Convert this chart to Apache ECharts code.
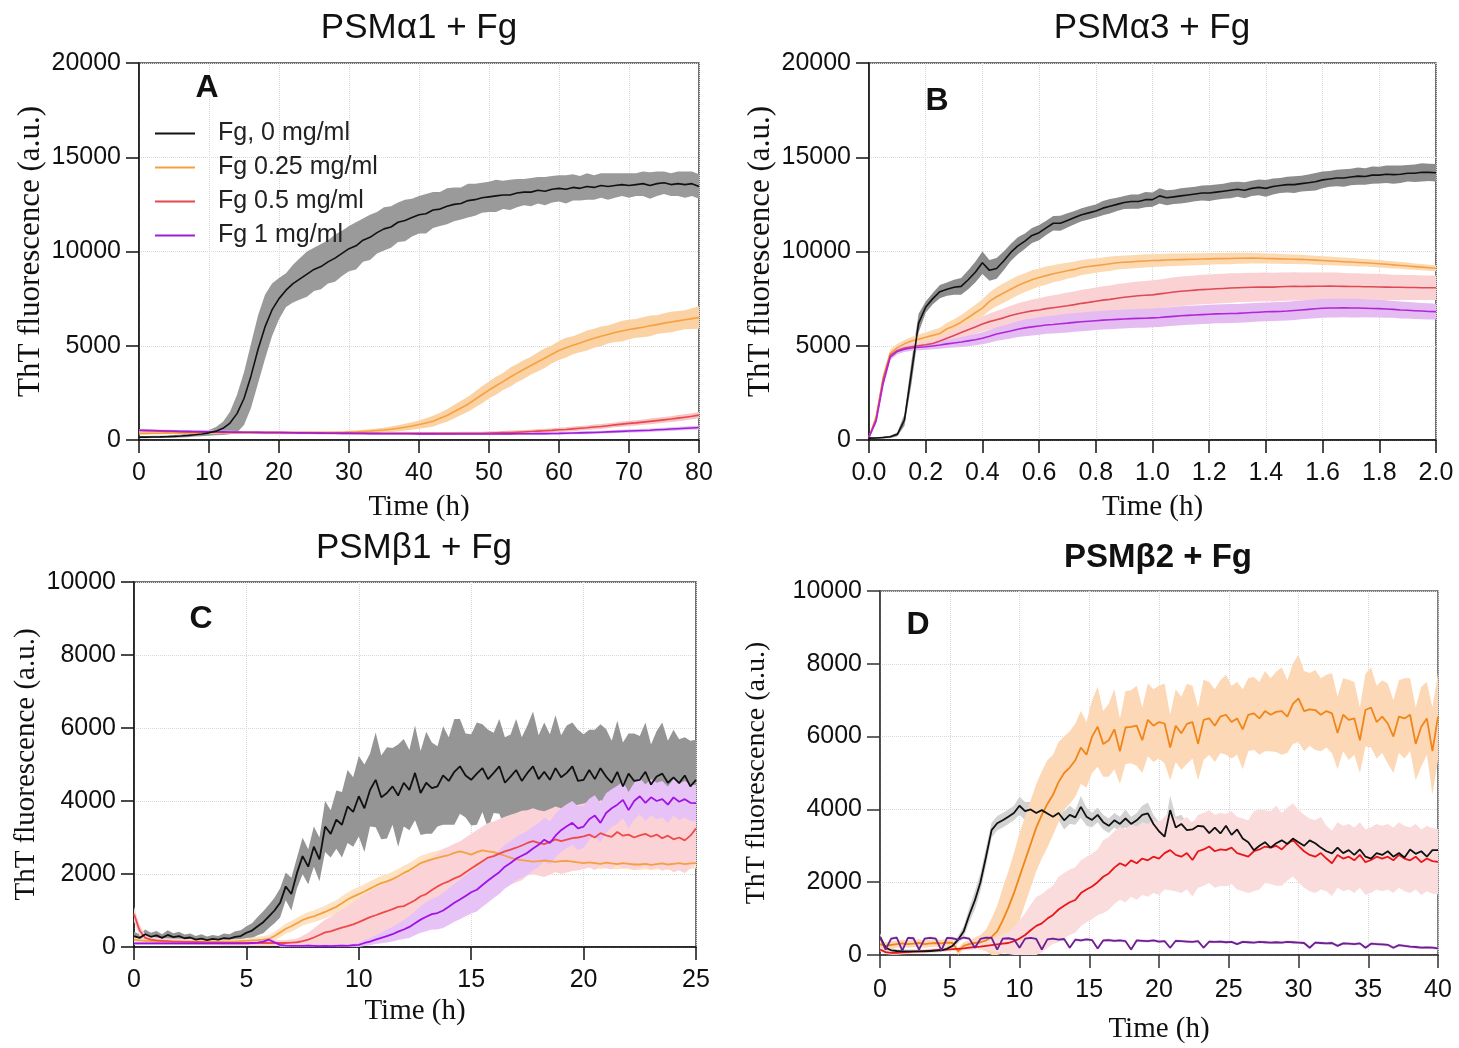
<!DOCTYPE html>
<html><head><meta charset="utf-8">
<script src="https://cdn.jsdelivr.net/npm/echarts@6/dist/echarts.min.js"></script>
<style>html,body{margin:0;padding:0;background:#fff}#c{width:1459px;height:1048px}</style>
</head><body><div id="c"></div>
<script>
// ---------- Panel A: PSMα1 + Fg (time step 1 h, 0..80 h) ----------
const A_step = 1;
const A_black = [150,150,160,165,175,190,210,240,280,320,
 380,470,620,900,1400,2200,3400,4800,6000,6900,
 7500,7950,8300,8550,8800,9050,9200,9450,9650,9900,
 10150,10300,10600,10750,11000,11200,11300,11550,11650,11800,
 11950,12000,12200,12250,12400,12500,12550,12700,12750,12850,
 12900,12950,13000,13000,13100,13150,13150,13250,13200,13300,
 13350,13300,13400,13350,13450,13400,13500,13450,13500,13550,
 13500,13550,13600,13500,13600,13650,13550,13600,13550,13600,
 13450];
const A_blackSd = [60,60,60,60,60,70,80,90,100,120,
 150,220,350,600,1000,1400,1700,1800,1700,1400,
 1100,900,1000,1100,1200,1150,1200,1150,1250,1200,
 1200,1250,1150,1200,1100,1150,1100,1050,1100,1000,
 1000,1050,950,900,950,900,850,900,850,800,
 800,850,750,800,750,700,750,700,750,700,
 700,750,700,650,700,650,650,700,650,600,
 650,600,650,700,650,600,600,650,700,650,
 650];
const A_orange = [350,350,360,360,370,370,380,380,380,390,
 390,390,390,390,390,390,390,390,390,390,
 390,390,390,390,390,390,390,390,400,400,
 420,430,450,470,500,530,570,620,680,740,
 820,900,1000,1150,1300,1500,1700,1900,2150,2400,
 2650,2880,3100,3330,3550,3750,3950,4150,4350,4550,
 4750,4900,5030,5150,5280,5400,5500,5600,5700,5780,
 5860,5920,5980,6060,6120,6200,6260,6320,6380,6440,
 6500];
const A_orangeSd = [60,60,60,60,60,60,60,60,60,60,
 60,60,60,60,60,60,60,60,60,60,
 60,60,60,60,60,60,60,60,70,70,
 80,80,90,100,110,120,140,160,180,200,
 220,250,280,300,330,360,380,400,420,450,
 450,480,450,500,480,500,470,500,520,480,
 500,520,480,500,530,500,520,480,500,550,
 520,500,530,550,500,520,550,530,500,550,
 600];
const A_red = [500,490,480,470,460,450,440,430,420,420,
 410,410,400,400,400,400,395,395,390,390,
 390,385,385,380,380,380,375,375,370,370,
 370,365,365,360,360,360,355,355,355,350,
 350,350,350,350,350,350,355,355,360,360,
 370,380,390,400,415,430,450,470,490,510,
 540,560,590,620,650,690,720,760,800,840,
 880,910,950,990,1030,1070,1110,1160,1210,1260,
 1320];
const A_redSd = [80,80,80,80,80,80,80,80,80,80,
 80,80,80,80,80,80,80,80,80,80,
 80,80,80,80,80,80,80,80,80,80,
 80,80,80,80,80,80,80,80,80,80,
 80,80,80,80,80,80,80,80,80,80,
 90,90,90,100,100,100,100,110,110,110,
 110,120,120,120,120,130,130,130,130,140,
 140,140,140,150,150,150,150,160,160,160,
 170];
const A_purple = [520,510,500,490,480,470,460,455,450,445,
 440,435,430,425,420,415,410,405,400,400,
 395,390,385,380,375,370,365,360,355,350,
 350,345,345,340,340,335,335,330,330,330,
 325,325,325,320,320,320,320,320,320,320,
 320,320,325,325,330,330,335,340,340,345,
 350,360,370,380,390,400,415,430,445,460,
 475,490,505,520,540,560,580,600,620,640,
 660];
const A_purpleSd = [60,60,60,60,60,60,60,60,60,60,
 60,60,60,60,60,60,60,60,60,60,
 60,60,60,60,60,60,60,60,60,60,
 60,60,60,60,60,60,60,60,60,60,
 60,60,60,60,60,60,60,60,60,60,
 60,60,60,60,70,70,70,70,70,70,
 70,70,70,80,80,80,80,80,80,80,
 90,90,90,90,90,90,100,100,100,100,
 100];

// ---------- Panel B: PSMα3 + Fg (time step 0.025 h, 0..2 h) ----------
const B_step = 0.025;
const B_black = [100,110,130,170,300,1060,3600,6200,7050,7500,
 7870,8000,8100,8150,8500,8900,9400,9000,9100,9500,
 9950,10300,10550,10850,11000,11250,11500,11500,11650,11800,
 11950,12050,12150,12300,12400,12500,12600,12650,12650,12750,
 12750,12950,12850,12900,12950,13000,13050,13100,13100,13150,
 13200,13250,13300,13250,13350,13400,13350,13450,13500,13550,
 13550,13600,13650,13700,13800,13850,13900,13900,13950,14000,
 13980,14050,14050,14100,14080,14100,14150,14150,14200,14200,
 14180];
const B_blackSd = [40,40,50,60,100,300,600,500,300,300,
 350,350,400,450,500,550,600,550,550,500,
 450,450,400,400,400,380,380,400,380,350,
 350,350,350,380,380,350,350,380,380,400,
 380,400,400,380,400,400,380,400,420,400,
 400,420,400,420,400,420,440,420,400,420,
 440,420,440,460,440,420,440,460,440,460,
 440,460,440,460,480,460,440,460,480,460,
 460];
const B_orange = [150,1200,3300,4600,4900,5100,5250,5350,5450,5550,
 5650,5900,6050,6250,6500,6750,7000,7350,7600,7800,
 8000,8200,8350,8500,8620,8720,8820,8900,8980,9050,
 9150,9200,9250,9300,9350,9400,9430,9450,9480,9500,
 9520,9530,9550,9560,9570,9580,9590,9600,9610,9620,
 9620,9630,9640,9640,9650,9640,9630,9620,9610,9600,
 9590,9580,9560,9540,9520,9500,9480,9460,9440,9420,
 9400,9380,9350,9320,9290,9260,9230,9200,9170,9140,
 9110];
const B_orangeSd = [50,200,250,200,200,200,220,250,250,280,
 300,320,350,380,400,420,450,480,500,520,
 520,520,500,500,480,480,450,450,420,420,
 400,400,380,380,380,360,360,350,350,350,
 340,340,330,330,320,320,320,310,310,300,
 300,300,290,290,280,280,270,270,260,260,
 250,250,240,240,230,230,220,220,210,210,
 200,200,200,190,190,180,180,170,170,160,
 160];
const B_red = [150,1100,3200,4500,4750,4880,4950,5000,5050,5120,
 5250,5400,5550,5700,5850,6000,6150,6280,6380,6480,
 6600,6700,6780,6850,6900,6970,7020,7070,7120,7180,
 7250,7300,7360,7420,7460,7520,7570,7610,7650,7680,
 7700,7750,7800,7850,7890,7920,7950,7980,8000,8020,
 8040,8060,8080,8090,8100,8110,8120,8110,8130,8140,
 8150,8140,8150,8160,8160,8170,8160,8150,8140,8140,
 8130,8130,8120,8110,8100,8100,8090,8090,8080,8080,
 8080];
const B_redSd = [50,150,150,150,150,180,200,200,200,220,
 250,280,300,330,350,380,400,430,460,500,
 520,550,570,600,620,640,660,680,700,700,
 720,720,730,740,740,750,750,760,760,760,
 770,770,770,780,780,780,780,780,780,780,
 780,780,770,770,770,760,760,760,750,750,
 750,740,740,730,730,720,720,710,700,700,
 690,690,680,680,670,670,660,660,650,650,
 650];
const B_purple = [150,1000,3000,4400,4700,4820,4880,4920,4950,4990,
 5040,5100,5150,5200,5260,5320,5400,5500,5620,5700,
 5780,5880,5950,6000,6050,6100,6130,6170,6200,6240,
 6270,6300,6330,6360,6380,6400,6420,6440,6450,6460,
 6480,6500,6530,6560,6590,6610,6630,6650,6670,6690,
 6700,6710,6720,6740,6760,6780,6800,6810,6820,6840,
 6870,6900,6930,6960,6990,7000,7000,7010,7000,7000,
 6990,6980,6970,6950,6930,6900,6880,6860,6840,6820,
 6810];
const B_purpleSd = [50,150,150,150,150,150,150,160,170,180,
 200,220,240,260,280,300,320,340,360,380,
 400,420,440,450,460,470,480,490,500,500,
 500,500,500,500,500,500,500,500,500,500,
 500,500,500,500,500,500,500,500,500,500,
 500,500,500,500,500,500,500,500,500,500,
 500,500,500,500,500,500,500,500,500,500,
 480,480,470,460,450,450,440,440,430,430,
 420];

// ---------- Panel C: PSMβ1 + Fg (time step 0.25 h, 0..25 h) ----------
const C_step = 0.25;
const C_black = [300,250,350,280,320,250,330,270,300,240,
 260,200,230,190,220,200,240,230,280,300,
 390,450,570,680,840,1000,1210,1660,1450,2030,
 2490,2200,2750,2400,3300,3100,3490,3350,3850,3700,
 4130,3800,4300,4580,4100,4220,4400,4150,4500,4300,
 4770,4220,4500,4350,4400,4700,4550,4800,4950,4700,
 4580,4750,4900,4600,4770,4950,4500,4670,4850,4550,
 4770,4950,4600,4800,4580,4900,4650,4770,4950,4550,
 4580,4850,4600,4900,4670,4500,4800,4400,4750,4550,
 4580,4800,4450,4670,4750,4500,4650,4490,4700,4400,
 4580];
const C_blackSd = [120,100,130,110,120,100,130,110,120,100,
 110,100,120,100,110,100,130,120,150,160,
 180,200,250,300,320,350,400,380,450,420,
 500,480,550,600,700,650,800,900,1000,950,
 1100,1200,1000,1300,1150,1250,1050,1400,1200,1100,
 1300,1150,1400,1250,1100,1350,1200,1450,1300,1150,
 1250,1400,1200,1350,1100,1300,1250,1150,1400,1200,
 1300,1500,1200,1350,1250,1450,1150,1300,1200,1400,
 1250,1100,1350,1200,1300,1150,1400,1200,1100,1300,
 1200,1350,1100,1250,1400,1150,1300,1200,1050,1250,
 1100];
const C_orange = [200,180,170,160,150,150,150,150,150,150,
 150,150,150,150,150,150,150,150,150,160,
 170,180,190,200,220,300,400,500,570,650,
 740,800,840,900,960,1030,1100,1200,1300,1380,
 1450,1520,1600,1680,1750,1800,1860,1940,2030,2100,
 2200,2300,2350,2400,2440,2480,2520,2580,2620,2580,
 2530,2600,2650,2620,2600,2550,2500,2450,2400,2380,
 2360,2340,2350,2370,2350,2330,2350,2360,2340,2320,
 2300,2320,2300,2280,2310,2290,2270,2300,2280,2260,
 2260,2280,2250,2270,2290,2260,2280,2300,2270,2290,
 2300];
const C_orangeSd = [60,60,60,60,60,60,60,60,60,60,
 60,60,60,60,60,60,60,60,60,60,
 80,80,90,100,110,120,130,140,150,150,
 150,160,160,170,170,180,180,190,190,200,
 200,200,200,200,200,200,200,200,200,200,
 200,200,200,200,200,200,200,200,200,200,
 200,200,200,200,200,180,180,160,160,150,
 150,150,150,150,150,150,150,150,150,150,
 150,150,150,150,150,150,150,150,150,150,
 150,150,150,150,150,150,150,150,150,150,
 150];
const C_red = [900,450,250,200,180,170,160,150,150,140,
 140,130,130,120,120,120,110,110,110,110,
 110,110,110,110,110,110,110,110,120,130,
 160,200,260,330,400,430,480,530,570,620,
 680,750,820,870,930,980,1040,1100,1120,1200,
 1280,1390,1450,1560,1660,1740,1800,1880,1940,2050,
 2150,2250,2350,2450,2490,2560,2620,2670,2720,2780,
 2850,2900,2850,2820,2880,2950,2900,2940,2980,3000,
 3030,3080,3000,3120,3060,3020,3150,3050,3080,3000,
 3060,3100,3020,3080,2980,3050,2950,3000,2920,3050,
 3250];
const C_redSd = [200,150,100,90,80,80,80,80,80,80,
 80,80,80,80,80,80,80,80,80,80,
 80,80,80,80,80,80,80,80,90,100,
 150,200,250,300,350,400,450,500,550,600,
 650,700,700,750,750,800,800,800,850,850,
 850,900,900,900,900,950,950,950,950,950,
 950,950,950,950,950,950,950,950,950,950,
 900,900,900,900,900,900,900,900,900,900,
 900,900,900,900,900,900,900,900,900,900,
 900,900,900,900,900,900,900,900,900,900,
 900];
const C_purple = [100,100,100,100,100,100,100,100,100,100,
 100,100,100,100,100,100,100,100,100,100,
 100,110,120,150,200,130,60,40,30,30,
 30,40,30,20,30,20,30,40,30,50,
 60,110,150,200,250,300,350,420,480,550,
 650,750,830,900,930,1000,1100,1210,1300,1400,
 1500,1570,1700,1820,1940,2050,2200,2300,2420,2500,
 2580,2700,2800,2940,2850,3050,3200,3310,3400,3250,
 3300,3500,3600,3400,3670,3800,3900,4030,3750,4000,
 4130,3950,4100,4000,4050,3900,4100,3980,4050,3950,
 3940];
const C_purpleSd = [40,40,40,40,40,40,40,40,40,40,
 40,40,40,40,40,40,40,40,40,40,
 40,40,40,40,50,50,50,40,40,40,
 40,40,40,40,40,40,40,40,40,40,
 60,80,100,120,150,180,200,230,260,300,
 330,360,400,420,450,480,500,520,540,560,
 580,600,600,600,600,600,600,600,600,600,
 600,600,600,600,600,600,600,600,600,600,
 580,560,560,540,540,520,520,500,500,500,
 500,500,500,500,500,500,500,500,500,500,
 500];

// ---------- Panel D: PSMβ2 + Fg (time step 0.4 h, 0..40 h) ----------
const D_step = 0.4;
const D_black = [500,200,130,110,100,100,100,100,100,110,
 120,130,170,250,420,650,1100,1500,2000,2700,
 3430,3620,3700,3800,3900,4100,3950,4000,3900,3980,
 3890,3800,3900,3700,3850,3780,4070,3800,3710,3850,
 3650,3550,3700,3600,3750,3600,3700,3850,3890,3600,
 3400,3250,3980,3500,3600,3430,3450,3550,3530,3350,
 3500,3340,3550,3300,3450,3200,3100,2880,3000,3100,
 2950,3070,3150,3050,3200,3100,3000,3150,3070,2950,
 2850,2790,2950,2800,2880,2750,2900,2700,2650,2800,
 2750,2850,2700,2800,2680,2900,2780,2850,2700,2880,
 2880];
const D_blackSd = [100,80,60,50,50,50,50,50,50,50,
 50,50,60,80,100,150,200,250,250,250,
 200,200,200,200,200,250,250,200,200,200,
 200,200,200,250,250,200,300,250,200,200,
 200,200,200,200,250,200,200,250,300,250,
 250,250,400,300,250,200,200,200,200,200,
 200,200,200,200,200,200,200,200,200,200,
 200,200,200,200,200,200,200,200,200,200,
 200,200,200,200,200,200,200,200,200,200,
 200,200,200,200,200,200,200,200,200,200,
 200];
const D_orange = [300,250,280,300,320,300,310,330,300,320,
 330,320,340,330,100,250,300,330,350,400,
 500,650,950,1300,1700,2150,2600,3050,3500,3850,
 4150,4400,4750,5000,5150,5350,5700,5500,6000,6270,
 5800,5900,6200,5600,6250,6270,6300,5900,6460,6300,
 6400,6360,5700,6300,6090,6350,6400,5800,6460,6500,
 6300,6550,6600,6400,6500,6200,6600,6640,6500,6700,
 6600,6680,6700,6550,6900,7050,6700,6750,6730,6600,
 6700,6640,6100,6600,6460,6500,5900,6730,6800,6400,
 6550,6360,6000,6550,6500,6600,5800,6270,6500,5600,
 6550];
const D_orangeSd = [100,100,100,100,100,100,100,100,100,100,
 100,100,100,100,100,100,100,150,200,300,
 500,700,900,1000,1100,1200,1200,1200,1200,1200,
 1200,1100,1100,1000,1000,1000,1000,900,1000,1100,
 900,1000,1100,900,1000,1000,1100,900,1000,1000,
 1000,1100,900,1000,1000,1100,1000,1000,1100,1000,
 1000,1000,1100,1000,1000,1100,1000,1000,1000,1100,
 1000,1100,1200,1000,1100,1200,1100,1000,1100,1000,
 1000,1100,1000,1000,1100,1000,900,1000,1100,1000,
 1000,1100,1000,1000,1100,1000,1000,1100,1000,1200,
 1200];
const D_red = [150,80,60,60,70,80,90,100,110,120,
 130,140,150,160,170,180,200,220,230,250,
 270,290,310,330,380,450,550,680,800,870,
 1000,1100,1250,1350,1450,1510,1700,1800,1880,2000,
 2150,2240,2400,2520,2450,2600,2520,2650,2600,2700,
 2650,2800,2880,2750,2700,2800,2610,2850,2900,2980,
 2850,2900,2880,2950,2800,2750,2700,2850,2900,2980,
 2950,3000,2900,3050,3160,3000,2850,2750,2700,2800,
 2650,2520,2750,2650,2700,2600,2750,2550,2610,2700,
 2650,2700,2600,2750,2650,2600,2700,2550,2650,2580,
 2560];
const D_redSd = [50,50,50,50,50,50,50,50,50,50,
 50,50,50,50,50,50,60,70,80,100,
 150,200,250,300,400,500,600,700,800,800,
 800,800,900,900,900,900,900,900,900,900,
 1000,1000,1000,1000,1000,1000,1000,1000,1000,1000,
 1000,1000,1100,1000,1000,1000,1000,1000,1000,1000,
 1000,1000,1000,1000,1000,1000,1000,1100,1100,1000,
 1000,1100,1000,1000,1000,1000,1000,1000,1000,1000,
 900,900,900,900,900,900,900,900,900,900,
 900,900,900,900,900,900,900,900,900,900,
 900];
const D_purple = [500,150,450,480,120,470,460,150,450,470,
 450,130,470,460,420,480,450,200,440,480,
 470,150,450,460,430,200,450,470,440,150,
 430,450,420,440,200,420,400,430,410,180,
 400,410,390,400,380,150,400,390,380,400,
 370,380,200,390,380,370,360,380,200,370,
 360,370,350,360,300,360,350,340,360,350,
 340,350,340,360,350,340,330,200,340,330,
 320,330,250,320,310,300,320,200,310,300,
 290,280,200,270,250,230,220,200,210,200,
 180];
const D_purpleSd = [40,40,40,40,40,40,40,40,40,40,
 40,40,40,40,40,40,40,40,40,40,
 40,40,40,40,40,40,40,40,40,40,
 40,40,40,40,40,40,40,40,40,40,
 40,40,40,40,40,40,40,40,40,40,
 40,40,40,40,40,40,40,40,40,40,
 40,40,40,40,40,40,40,40,40,40,
 40,40,40,40,40,40,40,40,40,40,
 40,40,40,40,40,40,40,40,40,40,
 40,40,40,40,40,40,40,40,40,40,
 40];

const legendNames = ['Fg, 0 mg/ml','Fg 0.25 mg/ml','Fg 0.5 mg/ml','Fg 1 mg/ml'];
const titles = ['PSMα1 + Fg','PSMα3 + Fg','PSMβ1 + Fg','PSMβ2 + Fg'];
const letters = ['A','B','C','D'];

// ---------- helpers ----------
function pts(step, vals){ return vals.map((v,i)=>[+(i*step).toFixed(3), v]); }
function band(g, step, mean, sd, color){
  const rows = mean.map((m,i)=>{ const s = sd[i] !== undefined ? sd[i] : sd[sd.length-1];
    return [+(i*step).toFixed(3), Math.max(0, m - s), m + s]; });
  return {type:'custom', xAxisIndex:g, yAxisIndex:g, z:1, silent:true, clip:true, animation:false,
    encode:{x:0, y:[1,2]}, data: rows,
    renderItem: function(params, api){
      if (params.dataIndex !== 0) return null;
      const up = rows.map(r=>api.coord([r[0], r[2]]));
      const dn = rows.map(r=>api.coord([r[0], r[1]])).reverse();
      return {type:'polygon', shape:{points: up.concat(dn)}, style:{fill: color}};
    }};
}
function line(g, step, vals, color, w, name, z){
  return {type:'line', name: name, xAxisIndex:g, yAxisIndex:g, data: pts(step, vals),
    symbol:'none', showSymbol:false, lineStyle:{color:color, width:w}, itemStyle:{color:color},
    z: z || 2, animation:false, silent:true};
}

const SANS = '"Liberation Sans", Arial, sans-serif';
const SERIF = '"Liberation Serif", "Times New Roman", serif';

function xAx(g, min, max, interval, nameGap, labelMargin, fmt, axisColor){
  return {type:'value', gridIndex:g, min:min, max:max, interval:interval,
    name:'Time (h)', nameLocation:'middle', nameGap:nameGap,
    nameTextStyle:{fontFamily:SERIF, fontSize:29, color:'#111'},
    axisLine:{show:true, onZero:false, lineStyle:{color:axisColor, width:1.5}},
    axisTick:{show:true, inside:false, length:13, lineStyle:{color:axisColor, width:1.5}},
    axisLabel:{fontFamily:SANS, fontSize:25, color:'#111', margin:labelMargin, formatter: fmt},
    splitLine:{show:true, lineStyle:{color:'#d9d9d9', type:'dotted', width:1}}};
}
function yAx(g, max, interval, nameGap, nameSize, axisColor){
  return {type:'value', gridIndex:g, min:0, max:max, interval:interval,
    name:'ThT fluorescence (a.u.)', nameLocation:'middle', nameGap:nameGap, nameRotate:90,
    nameTextStyle:{fontFamily:SERIF, fontSize:nameSize, color:'#111'},
    axisLine:{show:true, onZero:false, lineStyle:{color:axisColor, width:1.5}},
    axisTick:{show:true, inside:false, length:13, lineStyle:{color:axisColor, width:1.5}},
    axisLabel:{fontFamily:SANS, fontSize:25, color:'#111', margin:18, formatter: v=>String(v)},
    splitLine:{show:true, lineStyle:{color:'#d9d9d9', type:'dotted', width:1}}};
}

const series = [
  // A
  band(0, A_step, A_black, A_blackSd, '#9a9a9a'),
  band(0, A_step, A_orange, A_orangeSd, '#fbd2a3'),
  band(0, A_step, A_red, A_redSd, '#f6c4c4'),
  band(0, A_step, A_purple, A_purpleSd, '#e6bff5'),
  line(0, A_step, A_orange, '#f7a040', 1.6, legendNames[1]),
  line(0, A_step, A_red, '#e8474b', 1.6, legendNames[2]),
  line(0, A_step, A_purple, '#9d1fd8', 1.6, legendNames[3]),
  line(0, A_step, A_black, '#111111', 1.6, legendNames[0], 3),
  // B
  band(1, B_step, B_black, B_blackSd, '#8c8c8c'),
  band(1, B_step, B_orange, B_orangeSd, '#fcd9b0'),
  band(1, B_step, B_red, B_redSd, '#fbd2d4'),
  band(1, B_step, B_purple, B_purpleSd, '#e4bcf2'),
  line(1, B_step, B_orange, '#f4a04a', 1.6, 'B1'),
  line(1, B_step, B_red, '#dd4a55', 1.6, 'B2'),
  line(1, B_step, B_purple, '#b026d8', 1.6, 'B3'),
  line(1, B_step, B_black, '#111111', 1.6, 'B0', 3),
  // C
  band(2, C_step, C_black, C_blackSd, '#959595'),
  band(2, C_step, C_orange, C_orangeSd, '#fde2c4'),
  band(2, C_step, C_red, C_redSd, '#fbd3d6'),
  band(2, C_step, C_purple, C_purpleSd, '#e6c2f6'),
  line(2, C_step, C_orange, '#f5a040', 1.8, 'C1'),
  line(2, C_step, C_red, '#ef4a4a', 1.8, 'C2'),
  line(2, C_step, C_purple, '#a012e6', 1.8, 'C3'),
  line(2, C_step, C_black, '#111111', 1.8, 'C0', 3),
  // D
  band(3, D_step, D_black, D_blackSd, '#d2d2d2'),
  band(3, D_step, D_orange, D_orangeSd, '#fcd8b6'),
  band(3, D_step, D_red, D_redSd, '#fbdcdc'),
  band(3, D_step, D_purple, D_purpleSd, '#e8cff0'),
  line(3, D_step, D_orange, '#f0861a', 1.8, 'D1'),
  line(3, D_step, D_red, '#e8161a', 1.8, 'D2'),
  line(3, D_step, D_black, '#111111', 1.8, 'D0', 3),
  line(3, D_step, D_purple, '#6e1f91', 1.8, 'D3', 4)
];

const textCenters = [[419,28],[1152,28],[414,548],[1158,558]];
const letterCenters = [[207,88],[937,101],[201,619],[918,625]];
const graphic = [];
titles.forEach((t,i)=>graphic.push({type:'text', x:textCenters[i][0], y:textCenters[i][1], z:10,
  style:{text:t, fill:'#111', align:'center', verticalAlign:'middle',
    font: (i===3 ? 'bold 33px ' : '35px ') + SANS}}));
letters.forEach((t,i)=>graphic.push({type:'text', x:letterCenters[i][0], y:letterCenters[i][1], z:10,
  style:{text:t, fill:'#111', align:'center', verticalAlign:'middle', font:'bold 32px ' + SANS}}));

const option = {
  backgroundColor:'#fff',
  animation:false,
  grid:[
    {left:139, top:63, width:560, height:377, show:true, borderColor:'#444', borderWidth:1.5, backgroundColor:'transparent'},
    {left:869, top:63, width:567, height:377, show:true, borderColor:'#444', borderWidth:1.5, backgroundColor:'transparent'},
    {left:134, top:582, width:562, height:365, show:true, borderColor:'#444', borderWidth:1.5, backgroundColor:'transparent'},
    {left:880, top:591, width:558, height:364, show:true, borderColor:'#555', borderWidth:1.5, backgroundColor:'transparent'}
  ],
  xAxis:[
    xAx(0, 0, 80, 10, 53, 21, v=>String(v), '#111'),
    xAx(1, 0, 2, 0.2, 53, 21, v=>v.toFixed(1), '#111'),
    xAx(2, 0, 25, 5, 50, 21, v=>String(v), '#111'),
    xAx(3, 0, 40, 5, 60, 23, v=>String(v), '#333')
  ],
  yAxis:[
    yAx(0, 20000, 5000, 93, 31, '#111'),
    yAx(1, 20000, 5000, 93, 31, '#111'),
    yAx(2, 10000, 2000, 93, 29, '#111'),
    yAx(3, 10000, 2000, 109, 28, '#333')
  ],
  legend:{show:true, data:legendNames, orient:'vertical', left:155, top:121, itemGap:9, padding:0,
    icon:'rect', itemWidth:40, itemHeight:2,
    textStyle:{fontFamily:SANS, fontSize:25, color:'#222', padding:[0,0,0,18]}},
  graphic: graphic,
  series: series
};
const chart = echarts.init(document.getElementById('c'), null, {renderer:'canvas', width:1459, height:1048});
chart.setOption(option);
</script>
</body></html>
